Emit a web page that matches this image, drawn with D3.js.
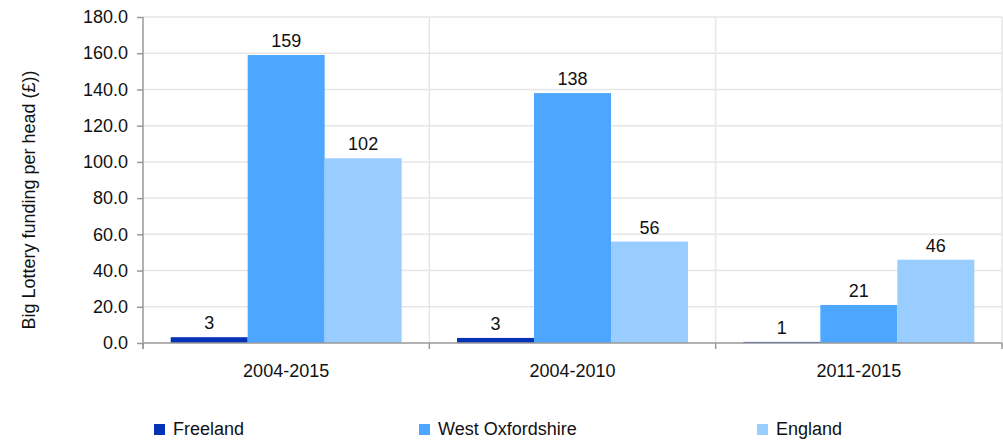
<!DOCTYPE html>
<html><head><meta charset="utf-8">
<script src="https://cdn.jsdelivr.net/npm/d3@7"></script>
<style>body{margin:0;background:#fff}svg{display:block;font-family:"Liberation Sans",Arial,sans-serif}</style>
</head><body><svg id="c" width="1003" height="440"></svg>
<script>
const categories = ["2004-2015", "2004-2010", "2011-2015"];
const seriesNames = ["Freeland", "West Oxfordshire", "England"];
const freeland = [3.2, 2.8, 0.6];
const westOxfordshire = [159, 138, 21];
const england = [102, 56, 46];
const yTicks = [0, 20, 40, 60, 80, 100, 120, 140, 160, 180];
const colors = ["#0433b8", "#4da6ff", "#99ccff"];
const seriesValues = [freeland, westOxfordshire, england];

const FS = 18;
const svg = d3.select("#c");
const m = {l: 143, r: 1002, t: 17, b: 343};
const x = d3.scaleBand().domain(categories).range([m.l, m.r]).paddingInner(0).paddingOuter(0);
const xs = d3.scaleBand().domain(seriesNames).range([0, x.bandwidth()]).paddingInner(0).paddingOuter(0.36);
const y = d3.scaleLinear().domain([0, 180]).range([m.b, m.t]);

// horizontal grid
svg.append("g").selectAll("line").data(yTicks.slice(1)).join("line")
  .attr("x1", m.l).attr("x2", m.r).attr("y1", d => y(d)).attr("y2", d => y(d))
  .attr("stroke", "#e6e6e6").attr("stroke-width", 1.5);
// vertical grid at category boundaries
svg.append("g").selectAll("line").data([1, 2, 3]).join("line")
  .attr("x1", i => m.l + i * x.bandwidth()).attr("x2", i => m.l + i * x.bandwidth())
  .attr("y1", m.t).attr("y2", m.b).attr("stroke", "#e6e6e6").attr("stroke-width", 1.5);

// bars
seriesNames.forEach((s, si) => {
  const g = svg.append("g");
  g.selectAll("rect").data(categories).join("rect")
    .attr("x", c => x(c) + xs(s)).attr("width", xs.bandwidth())
    .attr("y", (c, i) => y(seriesValues[si][i]))
    .attr("height", (c, i) => y(0) - y(seriesValues[si][i]))
    .attr("fill", colors[si]);
  g.selectAll("text").data(categories).join("text")
    .attr("x", c => x(c) + xs(s) + xs.bandwidth() / 2)
    .attr("y", (c, i) => y(seriesValues[si][i]) - 8)
    .attr("text-anchor", "middle").attr("font-size", FS).attr("fill", "#111")
    .text((c, i) => Math.round(seriesValues[si][i]));
});

// y axis
const ya = svg.append("g").attr("transform", `translate(${m.l},0)`)
  .call(d3.axisLeft(y).tickValues(yTicks).tickFormat(d3.format(".1f")).tickSize(6).tickPadding(9));
ya.select(".domain").attr("stroke", "#999").attr("stroke-width", 1.5).attr("d", `M0,${m.t}V${m.b + 6}`);
ya.selectAll(".tick line").attr("stroke", "#999").attr("stroke-width", 1.5);
ya.selectAll(".tick text").attr("font-size", FS).attr("fill", "#111").attr("font-family", "Liberation Sans, Arial, sans-serif");

// x axis
const xa = svg.append("g").attr("transform", `translate(0,${m.b})`);
xa.append("line").attr("x1", m.l).attr("x2", m.r).attr("stroke", "#999").attr("stroke-width", 1.5);
xa.selectAll("line.t").data([0, 1, 2, 3]).join("line").attr("class", "t")
  .attr("x1", i => m.l + i * x.bandwidth()).attr("x2", i => m.l + i * x.bandwidth())
  .attr("y1", 0).attr("y2", 6).attr("stroke", "#999").attr("stroke-width", 1.5);
xa.selectAll("text").data(categories).join("text")
  .attr("x", c => x(c) + x.bandwidth() / 2).attr("y", 34)
  .attr("text-anchor", "middle").attr("font-size", FS).attr("fill", "#111").text(c => c);

// y title
svg.append("text").attr("transform", `translate(35,200) rotate(-90)`)
  .attr("text-anchor", "middle").attr("font-size", FS).attr("fill", "#111")
  .text("Big Lottery funding per head (£))");

// legend
const legX = [154, 419, 757];
const leg = svg.append("g").selectAll("g").data(seriesNames).join("g")
  .attr("transform", (d, i) => `translate(${legX[i]},435)`);
leg.append("rect").attr("x", 0).attr("y", -11).attr("width", 11).attr("height", 11).attr("fill", (d, i) => colors[i]);
leg.append("text").attr("x", 19).attr("y", 0).attr("font-size", FS).attr("fill", "#111").text(d => d);
</script></body></html>
